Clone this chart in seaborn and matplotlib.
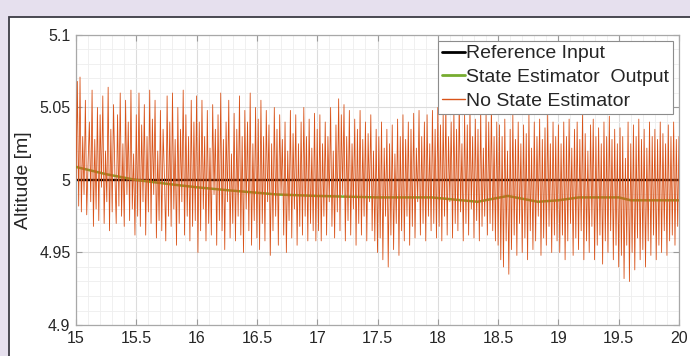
import numpy as np
import pandas as pd
import matplotlib
matplotlib.use("Agg")
import matplotlib.pyplot as plt
import matplotlib.patches as mpatches
from matplotlib.ticker import MultipleLocator
import seaborn as sns

# ---------------- data ----------------
t_start, t_end = 15.0, 20.0
reference_value = 5.0

# State estimator output (read at key times)
est_time = [15.0, 15.25, 15.5, 15.83, 16.0, 16.25, 16.67, 17.0, 17.5, 17.95,
            18.2, 18.33, 18.58, 18.83, 19.0, 19.17, 19.5, 19.6, 19.8, 20.0]
est_alt = [5.009, 5.004, 5.000, 4.9966, 4.995, 4.993, 4.990, 4.989, 4.988, 4.988,
           4.986, 4.985, 4.989, 4.985, 4.986, 4.988, 4.988, 4.986, 4.986, 4.986]

# Raw measurement without state estimator (sampled uniformly 15 -> 20 s)
raw_alt = [
    # 15.0 - 15.5
    5.000, 5.068, 4.982, 5.071, 4.978, 5.030, 4.990, 5.055, 4.976, 5.012,
    5.040, 4.985, 5.062, 4.968, 5.028, 4.980, 5.050, 4.972, 5.045, 4.995,
    5.058, 4.970, 5.020, 4.985, 5.064, 4.965, 5.035, 4.978, 5.052, 5.005,
    4.970, 5.045, 4.982, 5.060, 4.975, 5.025, 4.968, 5.055, 4.990, 5.040,
    4.972, 5.062, 4.980, 5.018, 4.962,
    # 15.5 - 16.0
    5.045, 4.975, 5.060, 4.968, 5.038, 4.985, 5.052, 4.962, 5.030, 4.978,
    5.062, 4.970, 5.042, 4.990, 5.055, 4.960, 5.020, 4.972, 5.048, 4.965,
    5.035, 5.002, 4.958, 5.058, 4.975, 5.040, 4.968, 5.060, 4.980, 5.028,
    4.955, 5.050, 4.970, 5.035, 4.985, 5.062, 4.962, 5.045, 4.975, 5.030,
    4.958, 5.055, 4.968, 5.040, 4.972,
    # 16.0 - 16.5
    5.058, 4.950, 5.040, 4.965, 5.055, 4.980, 5.030, 4.958, 5.048, 4.970,
    5.022, 4.962, 5.052, 4.990, 5.035, 4.955, 5.045, 4.972, 5.060, 4.965,
    5.028, 4.952, 5.040, 4.985, 5.055, 4.960, 5.018, 4.970, 5.046, 4.958,
    5.035, 4.975, 5.058, 4.962, 5.030, 4.950, 5.048, 4.980, 5.040, 4.965,
    5.060, 4.955, 5.025, 4.972, 5.050,
    # 16.5 - 17.0
    4.960, 5.042, 4.952, 5.055, 4.970, 5.030, 4.958, 5.048, 4.985, 5.038,
    4.948, 5.025, 4.965, 5.050, 4.975, 5.035, 4.955, 5.045, 4.990, 5.028,
    4.962, 5.040, 4.950, 5.020, 4.972, 5.048, 4.960, 5.032, 4.980, 5.045,
    4.955, 5.025, 4.968, 5.040, 4.962, 5.050, 4.975, 5.030, 4.958, 5.042,
    4.970, 5.022, 4.965, 5.046, 4.958,
    # 17.0 - 17.5
    5.035, 4.965, 5.045, 4.958, 5.025, 4.975, 5.040, 4.962, 5.030, 4.985,
    5.050, 4.968, 5.020, 4.960, 5.038, 4.978, 5.056, 4.965, 5.045, 4.990,
    5.052, 4.958, 5.030, 4.972, 5.048, 4.962, 5.025, 4.980, 5.042, 4.955,
    5.035, 4.970, 5.048, 4.962, 5.028, 4.975, 5.040, 4.958, 5.032, 4.985,
    5.045, 4.965, 5.020, 4.958, 5.035,
    # 17.5 - 18.0
    4.950, 5.030, 4.960, 5.040, 4.945, 5.022, 4.975, 5.035, 4.940, 5.025,
    4.962, 5.038, 4.952, 5.018, 4.970, 5.042, 4.948, 5.030, 4.965, 5.045,
    4.958, 5.028, 4.975, 5.040, 4.955, 5.035, 4.968, 5.046, 4.960, 5.022,
    4.985, 5.048, 4.962, 5.030, 4.970, 5.040, 4.958, 5.045, 4.975, 5.025,
    4.965, 5.048, 4.970, 5.035, 4.960,
    # 18.0 - 18.5
    5.050, 4.968, 5.038, 4.958, 5.045, 4.975, 5.052, 4.962, 5.030, 4.985,
    5.040, 4.960, 5.048, 4.970, 5.035, 4.965, 5.055, 4.978, 5.025, 4.958,
    5.045, 4.970, 5.038, 4.962, 5.050, 4.980, 5.030, 4.960, 5.042, 4.972,
    5.035, 4.958, 5.048, 4.968, 5.022, 4.975, 5.045, 4.962, 5.040, 4.970,
    5.052, 4.965, 5.030, 4.958, 5.040,
    # 18.5 - 19.0
    4.955, 5.038, 4.945, 5.030, 4.940, 5.042, 4.958, 5.020, 4.935, 5.035,
    4.952, 5.045, 4.962, 5.028, 4.948, 5.040, 4.970, 5.025, 4.950, 5.038,
    4.960, 5.032, 4.945, 5.045, 4.965, 5.022, 4.952, 5.040, 4.958, 5.030,
    4.975, 5.042, 4.948, 5.028, 4.960, 5.036, 4.955, 5.045, 4.968, 5.025,
    4.950, 5.040, 4.962, 5.030, 4.958,
    # 19.0 - 19.5
    5.038, 4.950, 5.025, 4.962, 5.040, 4.945, 5.030, 4.958, 5.042, 4.970,
    5.022, 4.948, 5.035, 4.960, 5.040, 4.952, 5.028, 4.965, 5.045, 4.945,
    5.032, 4.958, 5.020, 4.950, 5.038, 4.968, 5.042, 4.945, 5.030, 4.955,
    5.036, 4.962, 5.025, 4.942, 5.040, 4.958, 5.030, 4.950, 5.044, 4.965,
    5.028, 4.945, 5.035, 4.955, 5.025,
    # 19.5 - 20.0
    4.940, 5.036, 4.948, 5.030, 4.932, 5.015, 4.955, 5.040, 4.930, 5.025,
    4.950, 5.038, 4.938, 5.030, 4.960, 5.042, 4.945, 5.028, 4.952, 5.035,
    4.940, 5.022, 4.958, 5.040, 4.948, 5.030, 4.962, 5.035, 4.945, 5.028,
    4.955, 5.040, 4.950, 5.032, 4.965, 5.025, 4.948, 5.038, 4.958, 5.030,
    4.962, 5.040, 4.955, 5.028, 4.968, 5.030,
]
raw_time = np.linspace(t_start, t_end, len(raw_alt))

x_ticks = [15, 15.5, 16, 16.5, 17, 17.5, 18, 18.5, 19, 19.5, 20]
x_tick_labels = ["15", "15.5", "16", "16.5", "17", "17.5", "18", "18.5", "19", "19.5", "20"]
y_ticks = [4.9, 4.95, 5.0, 5.05, 5.1]
y_tick_labels = ["4.9", "4.95", "5", "5.05", "5.1"]

labels = ["Reference Input", "State Estimator  Output", "No State Estimator"]
colors = ["#000000", "#77AC30", "#D95319"]

# ---------------- plot ----------------
sns.set_theme(style="white")
plt.rcParams["font.family"] = ["Liberation Sans", "DejaVu Sans"]

fig = plt.figure(figsize=(6.9, 3.56), dpi=100)
fig.patch.set_facecolor("#e6e0ee")
panel = mpatches.Rectangle((9 / 690, -0.05), 1.0, 1 - 17 / 356 + 0.05,
                           transform=fig.transFigure, facecolor="white",
                           edgecolor="#3c3c44", linewidth=1.3, zorder=-5)
fig.patches.append(panel)

ax = fig.add_axes([76 / 690, 1 - 325 / 356, (679 - 76) / 690, (325 - 35) / 356])
ax.set_zorder(1)
ax.set_facecolor("white")

ref_df = pd.DataFrame({"t": [t_start, t_end], "alt": [reference_value, reference_value]})
est_df = pd.DataFrame({"t": est_time, "alt": est_alt})
raw_df = pd.DataFrame({"t": raw_time, "alt": raw_alt})

sns.lineplot(data=ref_df, x="t", y="alt", ax=ax, color=colors[0], linewidth=1.7,
             label=labels[0], estimator=None, zorder=2)
sns.lineplot(data=est_df, x="t", y="alt", ax=ax, color=colors[1], linewidth=1.8,
             label=labels[1], estimator=None, zorder=3)
sns.lineplot(data=raw_df, x="t", y="alt", ax=ax, color=colors[2], linewidth=0.6,
             label=labels[2], estimator=None, zorder=4)

ax.set_xlim(t_start, t_end)
ax.set_ylim(4.9, 5.1)
ax.set_xticks(x_ticks)
ax.set_xticklabels(x_tick_labels)
ax.set_yticks(y_ticks)
ax.set_yticklabels(y_tick_labels)
ax.xaxis.set_minor_locator(MultipleLocator(0.1))
ax.yaxis.set_minor_locator(MultipleLocator(0.01))

ax.grid(which="major", color="#dcdcdc", linewidth=0.8)
ax.grid(which="minor", color="#eeeeee", linewidth=0.6)
ax.set_axisbelow(True)

ax.tick_params(axis="both", which="major", direction="in", length=4, width=0.8,
               color="#9a9a9a", labelsize=11.5, labelcolor="#262626",
               top=True, right=True, bottom=True, left=True)
ax.tick_params(axis="x", which="major", pad=4)
ax.tick_params(axis="y", which="major", pad=4)
ax.tick_params(axis="both", which="minor", length=0, top=False, right=False)
for s in ax.spines.values():
    s.set_color("#a8a8a8")
    s.set_linewidth(0.9)

ax.set_xlabel("")
ax.set_ylabel("Altitude [m]", fontsize=14, color="#262626", labelpad=5)

leg = ax.legend(loc="upper right", fontsize=14, frameon=True, fancybox=False,
                handlelength=1.15, handletextpad=0.08, borderpad=0.2,
                labelspacing=0.32, borderaxespad=0.3)
leg.get_frame().set_edgecolor("#8c8c8c")
leg.get_frame().set_linewidth(0.8)
leg.get_frame().set_alpha(1.0)
for line in leg.get_lines():
    line.set_linewidth(2.0)
leg.get_lines()[2].set_linewidth(1.0)

fig.savefig("out.png", dpi=100, facecolor=fig.get_facecolor())
